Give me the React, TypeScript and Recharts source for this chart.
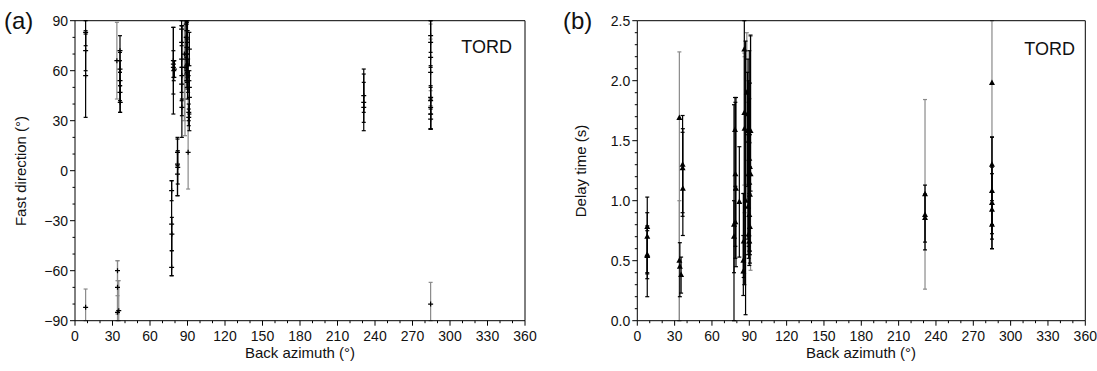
import { ScatterChart, Scatter, XAxis, YAxis, ErrorBar } from "recharts";

// [back azimuth, value, error below, error above]
type Row = [number, number, number, number];

const bazMajor = [0, 30, 60, 90, 120, 150, 180, 210, 240, 270, 300, 330, 360];
const phiMajor = [-90, -60, -30, 0, 30, 60, 90];
const dtMajor = [0, 0.5, 1, 1.5, 2, 2.5];

// fast direction (deg), well constrained (black bars)
const phiGood: Row[] = [
  [8.5, 83, 8, 7], [8.5, 72, 12, 12], [8.5, 57, 25, 25],
  [36, 72, 13, 9], [36, 61, 10, 10], [36, 54, 12, 12], [36, 47, 12, 12], [36.2, 41, 6, 10],
  [78.7, 66, 20, 20], [78.7, 64, 8, 8], [78.7, 62, 28, 24], [79, 60, 6, 6], [79.5, 61, 5, 5],
  [77.3, -12, 6, 6], [77.3, -32, 31, 26], [77.5, -38, 10, 10], [77.3, -58, 5, 10],
  [82, 11, 8, 8], [82, 4, 19, 16], [82.2, 2, 10, 10], [82, -2, 13, 13],
  [85.3, 85, 10, 10], [85.3, 77, 15, 10], [85.3, 67, 20, 20], [85.5, 57, 37, 30], [85.3, 52, 10, 10], [85.5, 38, 5, 5],
  [89, 88, 20, 5], [89.5, 84, 25, 10], [89, 80, 22, 12], [90, 77, 18, 14], [89.5, 74, 20, 15],
  [90, 70, 14, 14], [89, 67, 13, 13], [90, 64, 15, 15], [89.5, 60, 10, 10], [90.5, 57, 10, 10], [90, 53, 10, 10],
  [91.5, 73, 10, 10], [91.5, 50, 26, 10], [91.5, 44, 10, 10], [91, 35, 5, 5], [91, 32, 5, 5],
  [231, 45, 10, 16], [231, 41, 12, 12], [231, 38, 14, 20],
  [284.5, 81, 10, 10], [284.5, 77, 15, 13], [284.5, 44, 19, 19], [284.5, 42, 8, 8],
  [284.5, 38, 13, 13], [284.5, 34, 9, 9], [284.5, 31, 6, 6],
];

// fast direction (deg), fair (grey bars)
const phiFair: Row[] = [
  [8.5, -82, 8, 11],
  [33.5, 66, 23, 23],
  [34, -60, 6, 6], [34, -70, 16, 16], [34, -85, 5, 10], [35, -84, 6, 18],
  [87.5, 70, 40, 25], [88, 62, 41, 30],
  [90.5, 11, 22, 53],
  [284.5, 68, 20, 20], [284.5, 59, 20, 20],
  [284.5, -80, 10, 13],
];

// delay time (s), black bars
const dtGood: Row[] = [
  [8, 0.78, 0.58, 0.25], [8, 0.7, 0.3, 0.2], [8, 0.55, 0.2, 0.2], [8, 0.54, 0.15, 0.25],
  [34.2, 0.45, 0.25, 0.2], [35.2, 0.38, 0.15, 0.15],
  [36.4, 1.3, 0.4, 0.41], [36.4, 1.27, 0.4, 0.3], [36.6, 1.1, 0.39, 0.5],
  [77.7, 0.8, 0.8, 1.0], [77.7, 0.7, 0.3, 0.3], [78.5, 1.59, 0.5, 0.27], [78.8, 1.22, 0.6, 0.6],
  [79.3, 1.1, 0.65, 0.76], [78.8, 0.82, 0.3, 0.3],
  [82, 0.99, 0.46, 0.46],
  [85.2, 0.41, 0.2, 0.3], [85.2, 0.5, 0.1, 0.56], [85.5, 0.66, 0.3, 0.4],
  [86, 2.26, 1.96, 0.5], [87, 1.0, 0.95, 1.33],
  [88.5, 1.72, 0.6, 0.35], [89, 1.58, 0.9, 0.6], [89.5, 1.5, 0.8, 0.5], [90, 1.35, 0.7, 0.9],
  [90.5, 1.28, 0.7, 0.7], [89.5, 1.22, 0.6, 0.6], [90, 1.15, 0.5, 0.7], [90.5, 1.05, 0.5, 0.5],
  [89, 0.95, 0.4, 0.6], [90, 0.88, 0.3, 0.6], [90.5, 0.78, 0.3, 0.5], [89.5, 0.72, 0.2, 0.5],
  [90, 0.66, 0.2, 0.4], [91, 1.58, 0.5, 0.8],
  [231.2, 0.88, 0.29, 0.25], [231.2, 0.855, 0.2, 0.2],
  [285, 1.3, 0.5, 0.23], [285, 1.08, 0.48, 0.45], [285, 0.98, 0.3, 0.3], [285, 0.925, 0.2, 0.3], [285, 0.8, 0.2, 0.2],
];

// delay time (s), grey bars
const dtFair: Row[] = [
  [33.8, 1.69, 1.69, 0.55], [33.8, 0.5, 0.5, 0.5],
  [86, 1.73, 0.6, 0.5], [86.2, 1.6, 0.7, 0.6],
  [88, 1.9, 0.9, 0.5], [91, 1.22, 0.8, 1.15],
  [231.2, 1.053, 0.79, 0.79],
  [285, 1.98, 0.45, 1.0],
];

const FONT = "'Liberation Sans', Arial, Helvetica, sans-serif";

// error bars are cut at the frame, like the plot does
const toPts = (rows: Row[], lo: number, hi: number) =>
  rows.map(([baz, v, el, eh]) => ({ baz, v, err: [Math.min(el, v - lo), Math.min(eh, hi - v)] }));

const steps = (a: number, b: number, s: number) => {
  const out: number[] = [];
  for (let i = 0; a + i * s <= b + 1e-9; i++) out.push(Math.round((a + i * s) * 100) / 100);
  return out;
};

const bazTicks = steps(0, 360, 10);
const phiTicks = steps(-90, 90, 10);
const dtTicks = steps(0, 2.5, 0.1);

const isMajor = (majors: number[], v: number) => majors.some((m) => Math.abs(m - v) < 1e-6);

function makeTick(side: "bottom" | "top" | "left" | "right", majors: number[], fmt?: (v: number) => string) {
  return (props: any) => {
    const { x, y, payload } = props;
    const v = payload.value;
    const major = isMajor(majors, v);
    const len = major ? 5 : 2.5;
    const label = major && fmt ? fmt(v) : null;
    if (side === "bottom")
      return (
        <g>
          <line x1={x} y1={y} x2={x} y2={y + len} stroke="#000" />
          {label && (
            <text x={x} y={y + 20} textAnchor="middle" fontSize={14} fontFamily={FONT} fill="#111">
              {label}
            </text>
          )}
        </g>
      );
    if (side === "top") return <line x1={x} y1={y - len} x2={x} y2={y} stroke="#000" />;
    if (side === "right") return <line x1={x} y1={y} x2={x + len} y2={y} stroke="#000" />;
    return (
      <g>
        <line x1={x - len} y1={y} x2={x} y2={y} stroke="#000" />
        {label && (
          <text x={x - 7} y={y + 5} textAnchor="end" fontSize={14} fontFamily={FONT} fill="#111">
            {label}
          </text>
        )}
      </g>
    );
  };
}

const cross = (p: any) => (
  <path d={`M${p.cx - 2.5},${p.cy}H${p.cx + 2.5}M${p.cx},${p.cy - 2.5}V${p.cy + 2.5}`} stroke="#000" strokeWidth={1.2} />
);
const tri = (p: any) => (
  <path d={`M${p.cx},${p.cy - 3.5}L${p.cx + 3},${p.cy + 2}L${p.cx - 3},${p.cy + 2}Z`} fill="#000" />
);

function Panel({ left, width, margin, domain, yTicks, yMajor, yFmt, good, fair, shape }: any) {
  return (
    <div style={{ position: "absolute", left, top: 0 }}>
      <ScatterChart width={width} height={371} margin={margin}>
        <XAxis xAxisId="b" orientation="bottom" type="number" dataKey="baz" domain={[0, 360]} ticks={bazTicks}
          interval={0} tickSize={0} tickMargin={0} tickLine={false} height={30}
          axisLine={{ stroke: "#000" }} tick={makeTick("bottom", bazMajor, (v) => String(v))} />
        <XAxis xAxisId="t" orientation="top" type="number" domain={[0, 360]} ticks={bazTicks}
          interval={0} tickSize={0} tickMargin={0} tickLine={false} height={10}
          axisLine={{ stroke: "#000" }} tick={makeTick("top", bazMajor)} />
        <YAxis yAxisId="l" orientation="left" type="number" dataKey="v" domain={domain} ticks={yTicks}
          allowDataOverflow interval={0} tickSize={0} tickMargin={0} tickLine={false} width={40}
          axisLine={{ stroke: "#000" }} tick={makeTick("left", yMajor, yFmt)} />
        <YAxis yAxisId="r" orientation="right" type="number" domain={domain} ticks={yTicks}
          interval={0} tickSize={0} tickMargin={0} tickLine={false} width={10}
          axisLine={{ stroke: "#000" }} tick={makeTick("right", yMajor)} />
        <Scatter xAxisId="b" yAxisId="l" data={toPts(fair, domain[0], domain[1])} shape={shape} isAnimationActive={false}>
          <ErrorBar dataKey="err" direction="y" width={2} stroke="#8a8a8a" strokeWidth={1.2} />
        </Scatter>
        <Scatter xAxisId="b" yAxisId="l" data={toPts(good, domain[0], domain[1])} shape={shape} isAnimationActive={false}>
          <ErrorBar dataKey="err" direction="y" width={2} stroke="#000" strokeWidth={1.2} />
        </Scatter>
      </ScatterChart>
    </div>
  );
}

export default function App() {
  return (
    <div style={{ position: "absolute", left: 0, top: 0, width: 1097, height: 371, background: "#fff", fontFamily: FONT }}>
      <Panel left={0} width={548} margin={{ top: 10.7, bottom: 20.3, left: 35, right: 13 }}
        domain={[-90, 90]} yTicks={phiTicks} yMajor={phiMajor} yFmt={(v: number) => String(v).replace("-", "\u2212")}
        good={phiGood} fair={phiFair} shape={cross} />
      <Panel left={548} width={549} margin={{ top: 10.7, bottom: 20.3, left: 49.3, right: 1.7 }}
        domain={[0, 2.5]} yTicks={dtTicks} yMajor={dtMajor} yFmt={(v: number) => v.toFixed(1)}
        good={dtGood} fair={dtFair} shape={tri} />
      <svg width={1097} height={371} style={{ position: "absolute", left: 0, top: 0, pointerEvents: "none" }}>
        <g fontFamily={FONT} fill="#111">
          <text x={4} y={29} fontSize={24}>(a)</text>
          <text x={563} y={29} fontSize={24}>(b)</text>
          <text x={512} y={53} fontSize={18} textAnchor="end">TORD</text>
          <text x={1075} y={55} fontSize={18} textAnchor="end">TORD</text>
          <text x={300} y={358} fontSize={15} textAnchor="middle">Back azimuth (°)</text>
          <text x={861} y={358} fontSize={15} textAnchor="middle">Back azimuth (°)</text>
          <text transform="translate(26,171) rotate(-90)" fontSize={15} textAnchor="middle">Fast direction (°)</text>
          <text transform="translate(586,171) rotate(-90)" fontSize={15} textAnchor="middle">Delay time (s)</text>
        </g>
      </svg>
    </div>
  );
}
